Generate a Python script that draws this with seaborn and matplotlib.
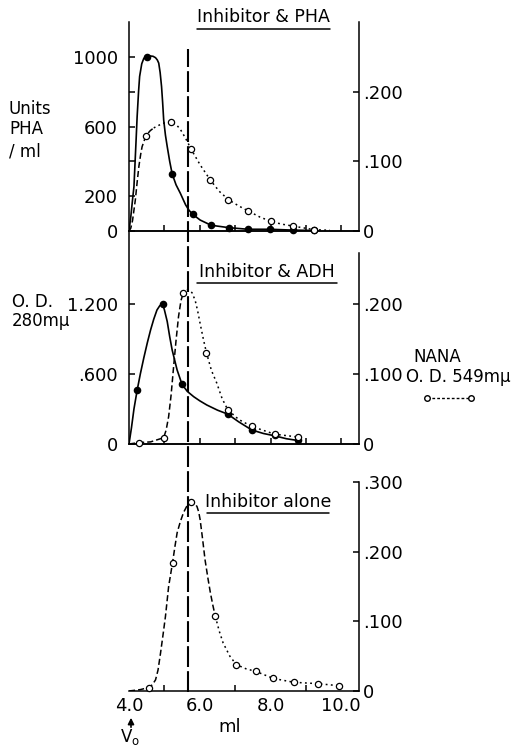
import matplotlib
matplotlib.use("Agg")
from matplotlib import pyplot as plt
from matplotlib.transforms import blended_transform_factory
import numpy as np
import seaborn as sns

W, H = 526, 746

# elution volume axis (ml)
x_lim = (4.0, 10.5)
void_marker = 5.67

# --- panel 1: inhibitor & PHA ---
pha_pts_x = [4.51, 5.22, 5.80, 6.32, 6.83, 7.36, 7.99, 8.64, 9.22]
pha_pts_y = [1000, 328, 96, 33, 19, 10, 10, 5, 3]
pha_line_x = [4.0, 4.05, 4.10, 4.14, 4.20, 4.23, 4.27, 4.30, 4.36, 4.42, 4.51, 4.60,
              4.68, 4.75, 4.80, 4.84, 4.88, 4.92, 4.95, 4.98, 5.03, 5.08, 5.15, 5.22,
              5.33, 5.45, 5.60, 5.70, 5.80, 6.01, 6.32, 6.83, 7.36, 7.99, 8.64, 9.22]
pha_line_y = [0, 80, 180, 255, 520, 657, 800, 887, 960, 992, 1000, 1005,
              1003, 995, 982, 964, 910, 829, 740, 638, 550, 485, 400, 328,
              265, 217, 150, 118, 96, 63, 33, 19, 10, 10, 5, 3]

nana1_pts_x = [4.48, 5.20, 5.76, 6.30, 6.81, 7.36, 8.00, 8.64, 9.22]
nana1_pts_y = [0.137, 0.156, 0.117, 0.073, 0.045, 0.029, 0.014, 0.007, 0.002]
nana1_line_x = [4.0, 4.05, 4.10, 4.18, 4.23, 4.28, 4.33, 4.37, 4.48, 4.60, 4.70, 4.93,
                5.07, 5.20, 5.33, 5.45, 5.60, 5.76, 6.01, 6.30, 6.55, 6.81, 7.10, 7.36,
                7.70, 8.00, 8.30, 8.64, 9.22, 9.68]
nana1_line_y = [0, 0.004, 0.015, 0.045, 0.070, 0.093, 0.110, 0.121, 0.137, 0.144, 0.148, 0.154,
                0.156, 0.156, 0.153, 0.146, 0.133, 0.117, 0.095, 0.073, 0.057, 0.045, 0.036, 0.029,
                0.020, 0.014, 0.010, 0.007, 0.002, 0.001]
nana1_split = 4.70

# --- panel 2: inhibitor & ADH ---
adh_pts_x = [4.23, 4.95, 5.50, 6.79, 7.47, 8.12, 8.77]
adh_pts_y = [0.46, 1.20, 0.51, 0.256, 0.12, 0.08, 0.03]
adh_line_x = [4.0, 4.07, 4.14, 4.23, 4.32, 4.42, 4.52, 4.61, 4.70, 4.79, 4.87, 4.95,
              5.00, 5.08, 5.15, 5.22, 5.36, 5.50, 5.65, 5.83, 6.00, 6.20, 6.50, 6.79,
              7.10, 7.47, 7.80, 8.12, 8.45, 8.77]
adh_line_y = [0, 0.14, 0.30, 0.46, 0.60, 0.74, 0.87, 0.977, 1.07, 1.148, 1.185, 1.20,
              1.15, 1.05, 0.92, 0.805, 0.634, 0.51, 0.45, 0.405, 0.37, 0.334, 0.29, 0.256,
              0.19, 0.12, 0.09, 0.07, 0.045, 0.03]

nana2_pts_x = [4.28, 4.98, 5.54, 6.19, 6.79, 7.47, 8.12, 8.77]
nana2_pts_y = [0.002, 0.009, 0.216, 0.130, 0.049, 0.025, 0.014, 0.010]
nana2_line_x = [4.0, 4.28, 4.61, 4.98, 5.05, 5.12, 5.19, 5.26, 5.33, 5.40, 5.47, 5.54,
                5.61, 5.68, 5.78, 5.87, 5.94, 6.01, 6.10, 6.19, 6.33, 6.48, 6.63, 6.79,
                7.10, 7.47, 8.12, 8.77]
nana2_line_y = [0, 0.002, 0.003, 0.009, 0.020, 0.039, 0.070, 0.110, 0.148, 0.182, 0.205, 0.216,
                0.221, 0.220, 0.216, 0.205, 0.190, 0.172, 0.150, 0.130, 0.105, 0.087, 0.065, 0.049,
                0.035, 0.025, 0.014, 0.010]
nana2_split = 5.54

# --- panel 3: inhibitor alone ---
nana3_pts_x = [4.56, 5.23, 5.74, 6.44, 7.03, 7.59, 8.08, 8.66, 9.35, 9.93]
nana3_pts_y = [0.005, 0.184, 0.271, 0.107, 0.038, 0.028, 0.018, 0.0125, 0.0105, 0.0076]
nana3_line_x = [4.0, 4.32, 4.56, 4.66, 4.75, 4.82, 4.89, 4.96, 5.03, 5.12, 5.23, 5.30,
                5.36, 5.45, 5.54, 5.64, 5.74, 5.84, 5.92, 5.97, 6.01, 6.08, 6.15, 6.23,
                6.30, 6.37, 6.44, 6.55, 6.66, 6.85, 7.03, 7.30, 7.59, 8.08, 8.66, 9.35, 9.93]
nana3_line_y = [0, 0.002, 0.005, 0.009, 0.016, 0.030, 0.054, 0.080, 0.107, 0.150, 0.184, 0.208,
                0.227, 0.243, 0.256, 0.266, 0.271, 0.270, 0.265, 0.257, 0.246, 0.218, 0.188, 0.162,
                0.141, 0.123, 0.107, 0.086, 0.069, 0.050, 0.038, 0.032, 0.028, 0.018, 0.0125, 0.0105, 0.0076]
nana3_split = 6.44

DASH = (0, (4, 2))
DOT = (0, (1.2, 2.2))

sns.set_style("ticks")
plt.rcParams["font.family"] = ["DejaVu Sans"]
plt.rcParams["axes.linewidth"] = 1.1
for key in ("text.color", "axes.labelcolor", "xtick.color", "ytick.color", "axes.edgecolor"):
    plt.rcParams[key] = "black"


def fx(px):
    return px / W


def fy(py):
    return 1 - py / H


def _solid(ax, xs, ys):
    sns.lineplot(x=xs, y=ys, ax=ax, color="black", linewidth=1.2,
                 estimator=None, sort=False)


def _nana(ax, xs, ys, split):
    xs, ys = np.array(xs), np.array(ys)
    a = xs <= split
    b = xs >= split
    sns.lineplot(x=xs[a], y=ys[a], ax=ax, color="black", linewidth=1.1,
                 linestyle=DASH, estimator=None, sort=False)
    sns.lineplot(x=xs[b], y=ys[b], ax=ax, color="black", linewidth=1.1,
                 linestyle=DOT, estimator=None, sort=False)


def _filled(ax, xs, ys):
    sns.scatterplot(x=xs, y=ys, ax=ax, color="black", s=30, linewidth=0,
                    zorder=5, clip_on=False)


def _open(ax, xs, ys):
    sns.scatterplot(x=xs, y=ys, ax=ax, color="white", edgecolor="black",
                    s=20, linewidth=0.9, zorder=6, clip_on=False)


def _style(ax, left=True, right=False):
    ax.set_facecolor("none")
    ax.spines["top"].set_visible(False)
    ax.spines["left"].set_visible(left)
    ax.spines["right"].set_visible(right)
    ax.tick_params(direction="in", length=4, width=1.1, labelsize=13,
                   colors="black")
    ax.set_xlabel("")
    ax.set_ylabel("")


fig = plt.figure(figsize=(W / 100, H / 100), dpi=100)
aw = 230 / W
ax1 = fig.add_axes([fx(129), fy(231), aw, (231 - 22) / H])
ax2 = fig.add_axes([fx(129), fy(444), aw, (444 - 231) / H])
ax3 = fig.add_axes([fx(129), fy(691), aw, (691 - 482) / H])
ax1r = ax1.twinx()
ax2r = ax2.twinx()

# panel 1
_solid(ax1, pha_line_x, pha_line_y)
_filled(ax1, pha_pts_x, pha_pts_y)
_nana(ax1r, nana1_line_x, nana1_line_y, nana1_split)
_open(ax1r, nana1_pts_x, nana1_pts_y)
ax1.set_ylim(0, 1200)
ax1r.set_ylim(0, 0.3)
ax1.set_yticks([0, 200, 400, 600, 800, 1000], ["0", "200", "", "600", "", "1000"])
ax1r.set_yticks([0, 0.1, 0.2], ["0", ".100", ".200"])

# panel 2
_solid(ax2, adh_line_x, adh_line_y)
_filled(ax2, adh_pts_x, adh_pts_y)
_nana(ax2r, nana2_line_x, nana2_line_y, nana2_split)
_open(ax2r, nana2_pts_x, nana2_pts_y)
ax2.set_ylim(0, 1.825)
ax2r.set_ylim(0, 0.304)
ax2.set_yticks([0, 0.6, 1.2], ["0", ".600", "1.200"])
ax2r.set_yticks([0, 0.1, 0.2], ["0", ".100", ".200"])

# panel 3
_nana(ax3, nana3_line_x, nana3_line_y, nana3_split)
_open(ax3, nana3_pts_x, nana3_pts_y)
ax3.set_ylim(0, 0.3)
ax3.yaxis.tick_right()
ax3.set_yticks([0, 0.1, 0.2, 0.3], ["0", ".100", ".200", ".300"])

for ax in (ax1, ax2):
    _style(ax, left=True)
    ax.set_xticks([5, 6, 7, 8, 9, 10], [])
for ax in (ax1r, ax2r):
    _style(ax, left=False, right=True)
ax2r.spines["right"].set_bounds(0, 0.273)
_style(ax3, left=False, right=True)
ax3.set_xticks([4, 6, 8, 10], ["4.0", "6.0", "8.0", "10.0"])
ax3.set_xticks([5, 7, 9], minor=True)
ax3.tick_params(axis="x", which="both", direction="in", length=4, width=1.1, pad=4)
ax3.tick_params(axis="x", which="major", length=0)
for ax in (ax1, ax2, ax3, ax1r, ax2r):
    ax.set_xlim(*x_lim)
for ax in (ax1, ax2):
    ax.tick_params(axis="y", pad=8)
for ax in (ax1r, ax2r, ax3):
    ax.tick_params(axis="y", pad=3)

# long-dashed marker line running through all three panels
trans = blended_transform_factory(ax3.transData, fig.transFigure)
ax3.plot([void_marker, void_marker], [fy(692), fy(49)], transform=trans,
         color="black", linewidth=1.5, linestyle=(0, (10, 2)), clip_on=False)

# panel titles, underlined
for label, x0, x1, yc, yl in [("Inhibitor & PHA", 197, 330, 17, 29),
                              ("Inhibitor & ADH", 197, 337, 272, 283),
                              ("Inhibitor alone", 207, 329, 502, 513)]:
    fig.text(fx((x0 + x1) / 2), fy(yc), label, ha="center", va="center", fontsize=12.5)
    fig.add_artist(plt.Line2D([fx(x0), fx(x1)], [fy(yl), fy(yl)], color="black",
                              linewidth=1.1, transform=fig.transFigure))

# axis labels
fig.text(fx(9), fy(109), "Units", ha="left", va="center", fontsize=12)
fig.text(fx(9), fy(129), "PHA", ha="left", va="center", fontsize=12)
fig.text(fx(9), fy(151), "/ ml", ha="left", va="center", fontsize=12)
fig.text(fx(12), fy(302), "O. D.", ha="left", va="center", fontsize=12)
fig.text(fx(12), fy(321), "280mμ", ha="left", va="center", fontsize=12)
fig.text(fx(413), fy(357), "NANA", ha="left", va="center", fontsize=12)
fig.text(fx(406), fy(377), "O. D. 549mμ", ha="left", va="center", fontsize=12)
ax2.plot([fx(427), fx(471)], [fy(398), fy(398)], transform=fig.transFigure,
         color="black", linewidth=1.0, linestyle=(0, (2, 1.5)), marker="o",
         markersize=4, markerfacecolor="white", markeredgecolor="black",
         clip_on=False)
fig.text(fx(230), fy(727), "ml", ha="center", va="center", fontsize=13)
ax3.annotate("", xy=(fx(131), fy(715)), xycoords="figure fraction",
             xytext=(fx(131), fy(730)), textcoords="figure fraction",
             arrowprops=dict(arrowstyle="-|>", color="black", lw=1.2,
                             mutation_scale=9))
fig.text(fx(130), fy(737), "V$_{\\rm o}$", ha="center", va="center", fontsize=12)

fig.savefig("out.png", dpi=100)
